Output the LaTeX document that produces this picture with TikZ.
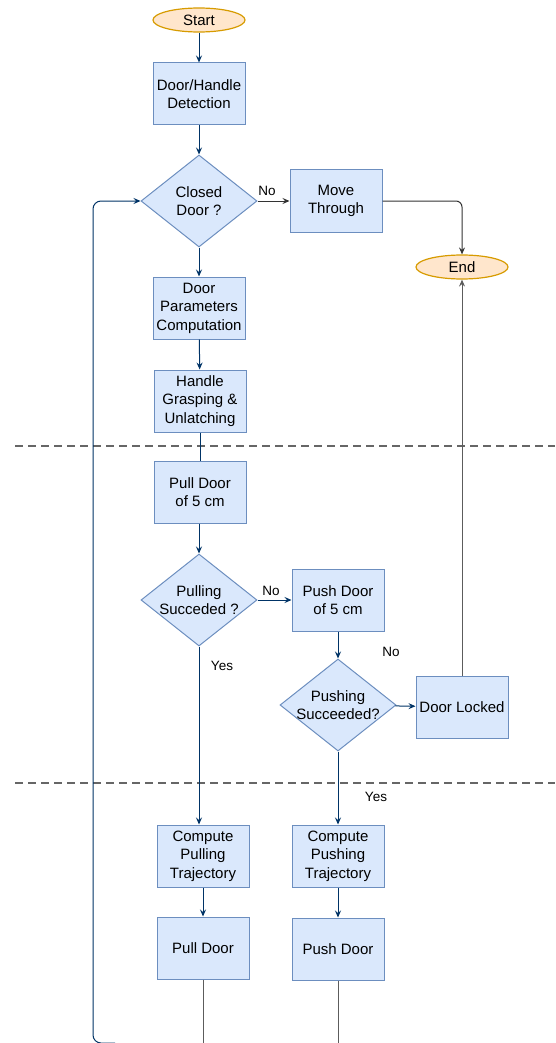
\documentclass[tikz,border=0pt]{standalone}
\usepackage{fontspec}
\setmainfont{Liberation Sans}
\usetikzlibrary{shapes.geometric,arrows.meta}
\definecolor{boxfill}{HTML}{DAE8FC}
\definecolor{boxdraw}{HTML}{6C8EBF}
\definecolor{termfill}{HTML}{FFE6CC}
\definecolor{termdraw}{HTML}{D79B00}
\definecolor{navy}{HTML}{003366}
\definecolor{darkline}{HTML}{333333}
\definecolor{dashgrey}{HTML}{666666}
\tikzset{
  txt/.style={font=\fontsize{15}{18.5}\selectfont, align=center, text=black},
  proc/.style={txt, rectangle, draw=boxdraw, fill=boxfill, line width=1pt, minimum width=92pt, minimum height=62pt, inner sep=1pt},
  term/.style={txt, ellipse, draw=termdraw, fill=termfill, line width=1.2pt, minimum width=92pt, minimum height=24pt, inner sep=0pt},
  decision/.style={txt, diamond, draw=boxdraw, fill=boxfill, line width=1pt, minimum width=116pt, minimum height=92pt, inner sep=-8pt, aspect=1.26},
  tip/.style={-{Stealth[length=7pt,width=6pt,inset=2.5pt]}},
  blueflow/.style={tip, draw=navy, line width=1pt},
  blackflow/.style={tip, draw=darkline, line width=1pt},
  plainblue/.style={draw=navy, line width=1pt},
  plaingrey/.style={draw=darkline!80, line width=1pt},
  sep/.style={draw=dashgrey, line width=2pt, dash pattern=on 8pt off 5pt},
  lbl/.style={font=\fontsize{13.5}{15}\selectfont, text=black},
}
\begin{document}
\begin{tikzpicture}[x=1pt,y=-1pt]
\useasboundingbox (0,0) rectangle (555,1043);
% separators
\draw[sep] (15,446) -- (555,446);
\draw[sep] (15,783) -- (555,783);

\node[term] (start) at (199,20) {Start};
\node[proc] (detect) at (199,94) {Door/Handle\\Detection};
\node[decision] (closed) at (199,201) {Closed\\Door ?};
\node[proc] (move) at (336,201) {Move\\Through};
\node[term] (end) at (462,267) {End};
\node[proc] (params) at (199,308) {Door\\Parameters\\Computation};
\node[proc] (grasp) at (200,401) {Handle\\Grasping \&\\Unlatching};
\node[proc] (pull5) at (200,492) {Pull Door\\of 5 cm};
\node[decision] (pulling) at (199,600) {Pulling\\Succeded ?};
\node[proc] (push5) at (338,600) {Push Door\\of 5 cm};
\node[decision] (pushing) at (338,705) {Pushing\\Succeeded?};
\node[proc] (locked) at (462,707) {Door Locked};
\node[proc] (cpull) at (203,856) {Compute\\Pulling\\Trajectory};
\node[proc] (cpush) at (338,856) {Compute\\Pushing\\Trajectory};
\node[proc] (pulld) at (203,948) {Pull Door};
\node[proc] (pushd) at (338,949) {Push Door};

\coordinate (loopstart) at (115,1043);
\coordinate (pullout) at (203,1043);
\coordinate (pushout) at (338,1043);

\draw[blueflow] (start) -- (detect);
\draw[blueflow] (detect) -- (closed);
\draw[blackflow] (closed) -- node[lbl, pos=0.3, above=2pt] {No} (move);
\draw[blackflow, rounded corners=6pt] (move.east) -| (end.north);
\draw[blueflow] (closed) -- (params);
\draw[blueflow] (params) -- (grasp);
\draw[plainblue] (grasp) -- (pull5);
\draw[blueflow] (pull5.south -| pulling.north) -- (pulling.north);
\draw[blueflow] (pulling) -- node[lbl, pos=0.4, above=1pt] {No} (push5);
\draw[blueflow] (pulling.south) -- (cpull.north -| pulling.south);
\node[lbl] (yes1) at (222,666) {Yes};
\draw[blueflow] (push5) -- (pushing);
\draw[blueflow] (pushing) -- (locked);
\node[lbl] (no3) at (391,652) {No};
\draw[blueflow] (pushing) -- (cpush);
\node[lbl] (yes2) at (376,797) {Yes};
\draw[blackflow, draw=darkline!80] (locked) -- (end);
\draw[blueflow] (cpull) -- (pulld);
\draw[blueflow] (cpush) -- (pushd);
\draw[plaingrey] (pulld) -- (pullout);
\draw[plaingrey] (pushd) -- (pushout);
\draw[blueflow, rounded corners=8pt] (loopstart) -- (93,1043) -- (93,201) -- (closed.west);
\end{tikzpicture}
\end{document}
